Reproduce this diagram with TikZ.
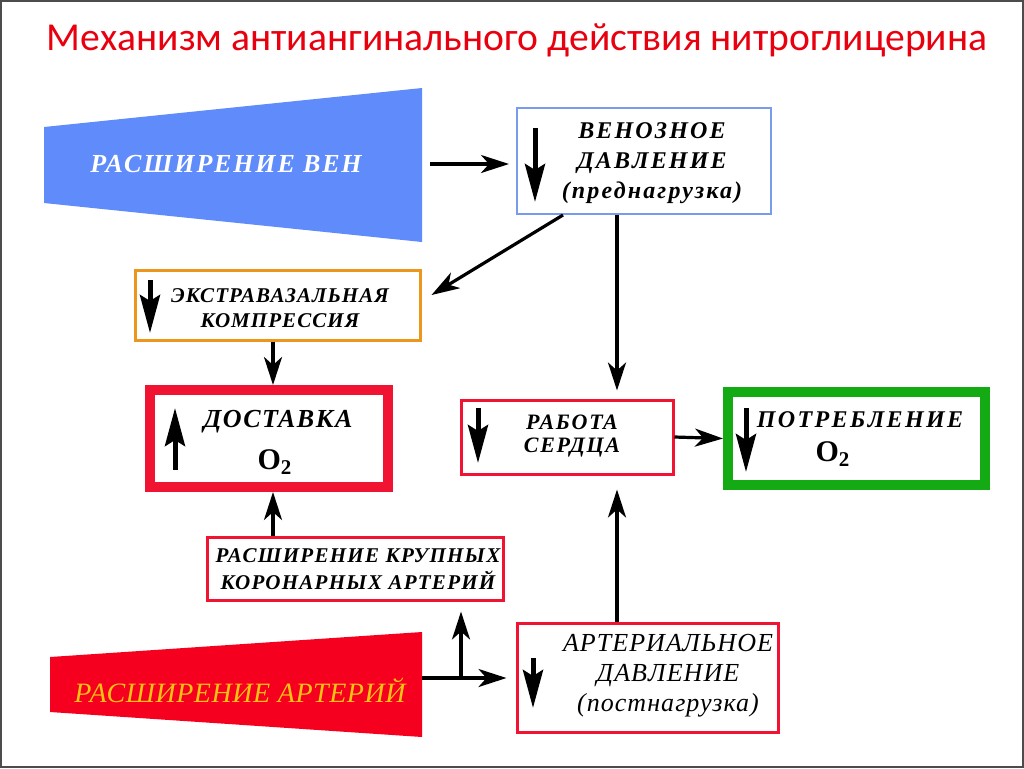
\documentclass[tikz,border=0pt]{standalone}
\usepackage{fontspec}
\setmainfont{Liberation Serif}
\newfontfamily\titlefont{Carlito}
\newcommand\spread[1]{\addfontfeature{LetterSpace=#1}}
\usetikzlibrary{arrows.meta,calc}

\definecolor{veinblue}{RGB}{95,140,250}
\definecolor{paleblue}{RGB}{120,155,240}
\definecolor{amber}{RGB}{236,150,30}
\definecolor{boxred}{RGB}{240,20,50}
\definecolor{artred}{RGB}{245,0,30}
\definecolor{gold}{RGB}{250,195,20}
\definecolor{leaf}{RGB}{20,170,20}
\definecolor{headred}{RGB}{232,0,15}

\begin{document}
\begin{tikzpicture}[x=0.5pt,y=-0.5pt,
  box/.style={draw,rectangle,inner sep=0pt},
  link/.style={line width=1.6pt,-{Stealth[length=14pt,width=9pt,inset=4pt]}},
  trend/.style={line width=2.5pt,-{Stealth[length=19pt,width=10pt,inset=3pt]}},
  lbl/.style={align=center,inner sep=0pt}]
\fill[white] (0,0) rectangle (1024,768);
\draw[gray!60!black,line width=1pt] (1,1) rectangle (1023,767);

\node[text=headred,font=\titlefont\fontsize{19.8}{24}\selectfont] (title) at (517,40) {Механизм антиангинального действия нитроглицерина};

% trapezoids
\fill[veinblue] (44,127) -- (422,88) -- (422,242) -- (44,203) -- cycle;
\node[lbl,text=white,font=\fontsize{13}{15}\selectfont\bfseries\itshape\spread{7}] (veins) at (226,164) {РАСШИРЕНИЕ ВЕН};
\coordinate (veinsend) at (422,164);

\fill[artred] (50,657) -- (422,632) -- (422,737) -- (50,712) -- cycle;
\node[lbl,text=gold,font=\fontsize{14}{16}\selectfont\itshape\spread{2}] (arteries) at (240,690) {РАСШИРЕНИЕ АРТЕРИЙ};
\coordinate (artend) at (422,678);

% boxes
\node[box,draw=paleblue,line width=1pt,minimum width=127pt,minimum height=53pt] (venous) at (644,161) {};
\node[box,draw=amber,line width=1.5pt,minimum width=142.5pt,minimum height=35pt] (extra) at (277.5,305) {};
\node[box,draw=boxred,line width=5pt,minimum width=119pt,minimum height=48.5pt] (delivery) at (269,438.5) {};
\node[box,draw=boxred,line width=1.5pt,minimum width=148pt,minimum height=31.5pt] (coronary) at (355,568.5) {};
\node[box,draw=boxred,line width=1.5pt,minimum width=106pt,minimum height=37pt] (work) at (567,437) {};
\node[box,draw=leaf,line width=5pt,minimum width=128.5pt,minimum height=46.5pt] (consume) at (856.5,438.5) {};
\node[box,draw=boxred,line width=1.5pt,minimum width=130.5pt,minimum height=54.5pt] (arterial) at (647.5,677.5) {};

% texts
\node[lbl,font=\fontsize{12}{15}\selectfont\bfseries\itshape\spread{9}] (venous-t) at (652,163) {ВЕНОЗНОЕ\\ДАВЛЕНИЕ\\(преднагрузка)};
\node[lbl,font=\fontsize{10.5}{12.5}\selectfont\bfseries\itshape\spread{5}] (extra-t) at (280,308) {ЭКСТРАВАЗАЛЬНАЯ\\КОМПРЕССИЯ};
\node[lbl,font=\fontsize{13}{15}\selectfont\bfseries\itshape\spread{6}] (delivery-t) at (278,422) {ДОСТАВКА};
\node[lbl,font=\fontsize{15}{17}\selectfont\bfseries] (delivery-o) at (275,462) {O\textsubscript{2}};
\node[lbl,font=\fontsize{11}{11.5}\selectfont\bfseries\itshape\spread{8}] (work-t) at (572,436) {РАБОТА\\СЕРДЦА};
\node[lbl,font=\fontsize{12}{14}\selectfont\bfseries\itshape\spread{10}] (consume-t) at (860,420) {ПОТРЕБЛЕНИЕ};
\node[lbl,font=\fontsize{15}{17}\selectfont\bfseries] (consume-o) at (833,454) {O\textsubscript{2}};
\node[lbl,font=\fontsize{10.5}{13.5}\selectfont\bfseries\itshape\spread{6}] (coronary-t) at (358,569) {РАСШИРЕНИЕ КРУПНЫХ\\КОРОНАРНЫХ АРТЕРИЙ};
\node[lbl,font=\fontsize{13}{15}\selectfont\itshape\spread{4}] (arterial-t) at (668,676) {АРТЕРИАЛЬНОЕ\\ДАВЛЕНИЕ\\(постнагрузка)};

% trend arrows inside boxes
\draw[trend] (535,128) -- (535,202);
\draw[trend] (150,280) -- (150,333);
\draw[trend] (175,470) -- (175,408);
\draw[trend] (478,408) -- (478,463);
\draw[trend] (746,408) -- (746,472);
\draw[trend] (533,658) -- (533,708);

% connectors
\draw[link,shorten <=4pt,shorten >=3.5pt] (veinsend) -- (veinsend -| venous.west);
\draw[link] (venous.south -| 563,0) -- ($(extra.east)+(10,-10)$);
\draw[link,shorten >=4pt] (venous.south -| 617,0) -- (work.north -| 617,0);
\draw[link] (extra.south -| 273,0) -- (delivery.north -| 273,0);
\draw[link] (coronary.north -| 273,0) -- (delivery.south -| 273,0);
\draw[link,shorten >=7pt] (arterial.north -| 617,0) -- (work.south -| 617,0);
\draw[link] (work.east) -- (consume.west);
\draw[link,shorten >=4.5pt] (artend) -- (artend -| arterial.west);
\coordinate (fork) at (461,678);
\draw[link,shorten >=5pt] (fork) -- (fork |- coronary.south);
\end{tikzpicture}
\end{document}
